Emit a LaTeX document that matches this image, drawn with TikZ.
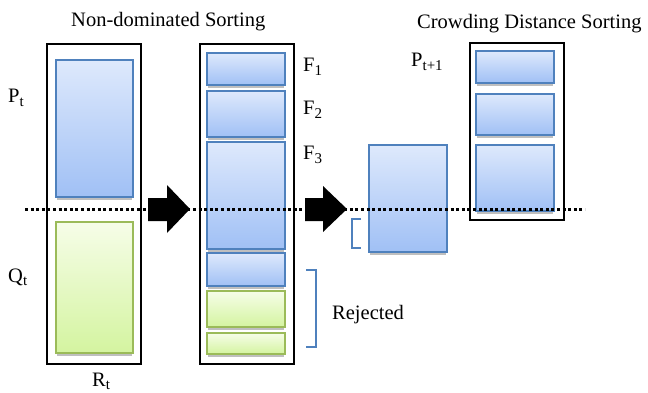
\documentclass[tikz,border=0pt]{standalone}
\usepackage{fontspec}
\setmainfont{Liberation Serif}
\definecolor{bborder}{RGB}{79,129,189}
\definecolor{btop}{RGB}{222,233,252}
\definecolor{bbot}{RGB}{160,192,245}
\definecolor{gborder}{RGB}{155,187,89}
\definecolor{gtop}{RGB}{246,253,232}
\definecolor{gbot}{RGB}{212,244,160}
\newcommand{\ibox}[6]{%
  \fill[gray!50] (#2+1,#5+0.5) rectangle (#4-1,#5+3);
  \node[#6, anchor=north west, minimum width={(#4-#2)*1pt}, minimum height={(#5-#3)*1pt}] (#1) at (#2,#3) {};}
\newcommand{\obox}[5]{%
  \node[outerbox, anchor=north west, minimum width={(#4-#2)*1pt}, minimum height={(#5-#3)*1pt}] (#1) at (#2,#3) {};}
\newcommand{\sbs}[1]{\textsubscript{\fontsize{15}{16}\selectfont #1}}
\tikzset{
  bluebox/.style={draw=bborder, line width=1.5pt, top color=btop, bottom color=bbot, inner sep=0pt, outer sep=0pt},
  greenbox/.style={draw=gborder, line width=1.5pt, top color=gtop, bottom color=gbot, inner sep=0pt, outer sep=0pt},
  outerbox/.style={draw=black, line width=2.2pt, fill=white, inner sep=0pt, outer sep=0pt},
  lbl/.style={anchor=base west, inner sep=0pt, font=\fontsize{20.5}{24}\selectfont},
  bracket/.style={draw=bborder, line width=1.3pt},
  blockarrow/.style={fill=black},
  sepline/.style={line width=3pt, dash pattern=on 3pt off 2.6pt}
}
\begin{document}
\begin{tikzpicture}[x=1pt,y=-1pt]
\useasboundingbox (0,0) rectangle (648,393);
% column 1
\obox{R}{47}{44}{141}{364}
\ibox{P}{56}{60}{133}{197}{bluebox}
\ibox{Q}{56}{222}{133}{353}{greenbox}
% column 2
\obox{S}{200}{44}{294}{364}
\ibox{F1}{207}{53}{285}{85}{bluebox}
\ibox{F2}{207}{91}{285}{137}{bluebox}
\ibox{F3}{207}{142}{285}{249}{bluebox}
\ibox{F4}{207}{253}{285}{286}{bluebox}
\ibox{F5}{207}{291}{285}{327}{greenbox}
\ibox{F6}{207}{333}{285}{354}{greenbox}
% column 3
\ibox{C}{369}{145}{447}{252}{bluebox}
% column 4
\obox{N}{470}{43}{564}{220}
\ibox{N1}{476}{51}{554}{83}{bluebox}
\ibox{N2}{476}{94}{554}{135}{bluebox}
\ibox{N3}{476}{145}{554}{211}{bluebox}
% block arrows
\fill[blockarrow] (148,198) -- (167,198) -- (167,185) -- (190,209) -- (167,233) -- (167,221) -- (148,221) -- cycle;
\fill[blockarrow] (305,198) -- (323,198) -- (323,186) -- (347,209) -- (323,232) -- (323,221) -- (305,221) -- cycle;
% brackets
\draw[bracket] (361,219) -- (352,219) -- (352,248) -- (361,248);
\draw[bracket] (306,270) -- (316,270) -- (316,347) -- (306,347);
% dotted separator
\coordinate (dl) at (25,209);
\coordinate (dr) at (585,209);
\draw[sepline] (dl) -- (dr);
% labels
\node[lbl] (t1) at (71,27) {Non-dominated Sorting};
\node[lbl] (t2) at (417,29) {Crowding Distance Sorting};
\node[lbl] (lp) at (8,103) {P\sbs{t}};
\node[lbl] (lq) at (8,282) {Q\sbs{t}};
\node[lbl] (lr) at (92,386) {R\sbs{t}};
\node[lbl] (lf1) at (303,72) {F\sbs{1}};
\node[lbl] (lf2) at (303,115) {F\sbs{2}};
\node[lbl] (lf3) at (303,160) {F\sbs{3}};
\node[lbl] (lpt) at (411,67) {P\sbs{t+1}};
\node[lbl] (lrej) at (332,319) {Rejected};
\end{tikzpicture}
\end{document}
